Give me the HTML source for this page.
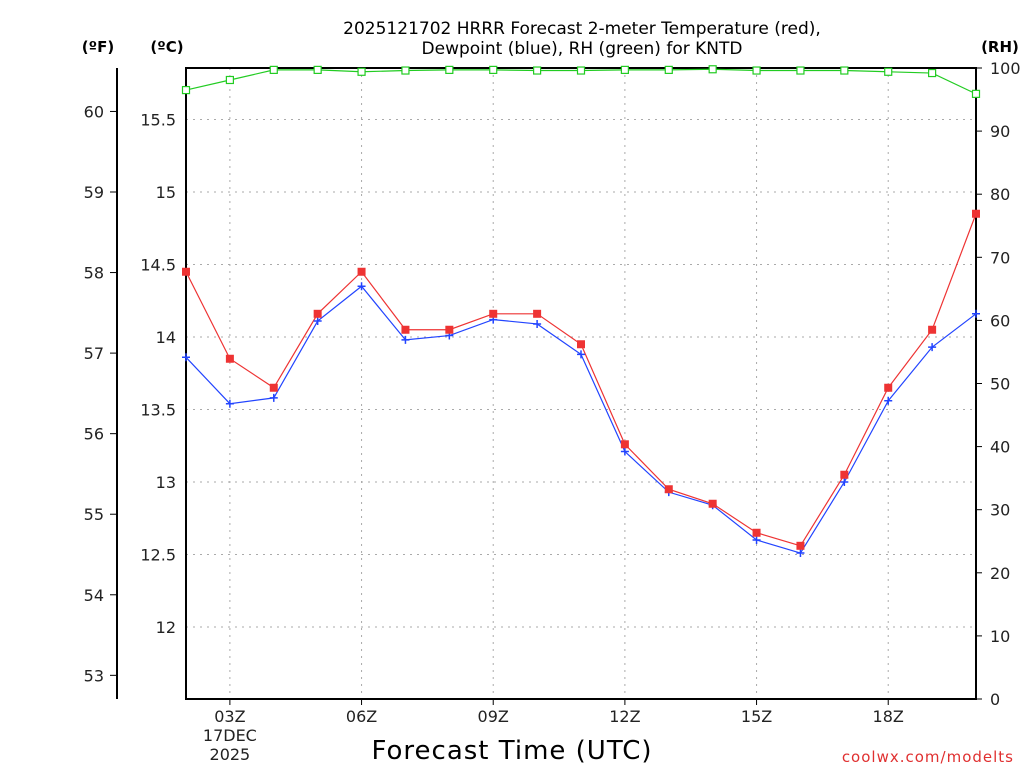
<!DOCTYPE html>
<html><head><meta charset="utf-8"><style>
html,body{margin:0;padding:0;background:#fff;width:1024px;height:768px;overflow:hidden}
svg text{font-family:"DejaVu Sans","Liberation Sans",sans-serif}
</style></head><body>
<svg id="chart" width="1024" height="768" viewBox="0 0 1024 768" xmlns="http://www.w3.org/2000/svg">
<text x="582" y="34" font-size="17" text-anchor="middle" fill="#000">2025121702 HRRR Forecast 2-meter Temperature (red),</text>
<text x="582" y="54" font-size="17" text-anchor="middle" fill="#000">Dewpoint (blue), RH (green) for KNTD</text>
<text x="98" y="52" font-size="15" font-weight="bold" text-anchor="middle">(ºF)</text>
<text x="167" y="52" font-size="15" font-weight="bold" text-anchor="middle">(ºC)</text>
<text x="1000" y="52" font-size="15" font-weight="bold" text-anchor="middle">(RH)</text>
<g id="grid"></g><g id="axes"></g><g id="series"></g>
<text x="512" y="759" font-size="26" text-anchor="middle" letter-spacing="1">Forecast Time (UTC)</text>
<text x="1014" y="762" font-size="15" text-anchor="end" fill="#e03030" letter-spacing="1">coolwx.com/modelts</text>
</svg>
<script>
const hours = [2,3,4,5,6,7,8,9,10,11,12,13,14,15,16,17,18,19,20];
const tempC = [14.45,13.85,13.65,14.16,14.45,14.05,14.05,14.16,14.16,13.95,13.26,12.95,12.85,12.65,12.56,13.05,13.65,14.05,14.85];
const dewC = [13.86,13.54,13.58,14.11,14.35,13.98,14.01,14.12,14.09,13.88,13.21,12.93,12.84,12.6,12.51,13.0,13.56,13.93,14.16];
const rh = [96.5,98.1,99.7,99.7,99.4,99.6,99.7,99.7,99.6,99.6,99.7,99.7,99.8,99.6,99.6,99.6,99.4,99.2,95.9];
const cTicks = [12,12.5,13,13.5,14,14.5,15,15.5];
const fTicks = [53,54,55,56,57,58,59,60];
const rhTicks = [0,10,20,30,40,50,60,70,80,90,100];
const xTickHours = [3,6,9,12,15,18];
const xTickLabels = ["03Z","06Z","09Z","12Z","15Z","18Z"];

const NS="http://www.w3.org/2000/svg";
const L=186,R=976,T=68,B=699;
const xs=h=>L+(h-2)*(R-L)/18;
const yc=c=>337-(c-14)*145;
const yf=f=>yc((f-32)*5/9);
const yr=v=>B-v*(B-T)/100;
function mk(tag,attrs,parent){const e=document.createElementNS(NS,tag);for(const k in attrs)e.setAttribute(k,attrs[k]);document.getElementById(parent).appendChild(e);return e;}

cTicks.forEach(c=>{
  const g=mk('line',{x1:L,x2:R,y1:yc(c),y2:yc(c),stroke:'#aaa','stroke-dasharray':'2,5'},'grid');
  
  
  const t=mk('text',{x:L-10,y:yc(c)+6,'font-size':16,'text-anchor':'end',fill:'#222'},'axes');t.textContent=c;
  
  
});
xTickHours.forEach((h,i)=>{
  const g=mk('line',{x1:xs(h),x2:xs(h),y1:T,y2:B,stroke:'#aaa','stroke-dasharray':'2,5'},'grid');
  
  
  mk('line',{x1:xs(h),x2:xs(h),y1:B,y2:B+6,stroke:'#000'},'axes');
  const t=mk('text',{x:xs(h),y:722,'font-size':16,'text-anchor':'middle',fill:'#222'},'axes');t.textContent=xTickLabels[i];
  
  
});
[["17DEC",741],["2025",760]].forEach(d=>{const t=mk('text',{x:xs(3),y:d[1],'font-size':16,'text-anchor':'middle',fill:'#222'},'axes');t.textContent=d[0];
  
  });
fTicks.forEach(f=>{
  mk('line',{x1:110,x2:117,y1:yf(f),y2:yf(f),stroke:'#000'},'axes');
  const t=mk('text',{x:104,y:yf(f)+6,'font-size':16,'text-anchor':'end',fill:'#222'},'axes');t.textContent=f;
  
  
});
rhTicks.forEach(v=>{
  mk('line',{x1:R,x2:R+6,y1:yr(v),y2:yr(v),stroke:'#000'},'axes');
  const t=mk('text',{x:990,y:yr(v)+6,'font-size':16,'text-anchor':'start',fill:'#222'},'axes');t.textContent=v;
  
  
});
mk('line',{x1:117,x2:117,y1:T,y2:B,stroke:'#000','stroke-width':2},'axes');
const fr=mk('rect',{x:L,y:T,width:R-L,height:B-T,fill:'none',stroke:'#000','stroke-width':2},'axes');



function line(vals,yfn,color,name){
  const p=mk('polyline',{points:vals.map((v,i)=>xs(hours[i])+','+yfn(v)).join(' '),fill:'none',stroke:color,'stroke-width':1.2},'series');
  
  
}
line(rh,yr,'#22cc22','rh-line');
line(dewC,yc,'#2244ff','dewpoint-line');
line(tempC,yc,'#ee3333','temperature-line');
rh.forEach((v,i)=>{const m=mk('rect',{x:xs(hours[i])-3.5,y:yr(v)-3.5,width:7,height:7,fill:'#fff',stroke:'#22cc22','stroke-width':1.2},'series');
  
  });
dewC.forEach((v,i)=>{const x=xs(hours[i]),y=yc(v);const m=mk('path',{d:`M${x-4},${y}H${x+4}M${x},${y-4}V${y+4}`,stroke:'#2244ff','stroke-width':1.5},'series');
  
  });
tempC.forEach((v,i)=>{const m=mk('rect',{x:xs(hours[i])-4,y:yc(v)-4,width:8,height:8,fill:'#ee3333'},'series');
  
  });
</script>
</body></html>
